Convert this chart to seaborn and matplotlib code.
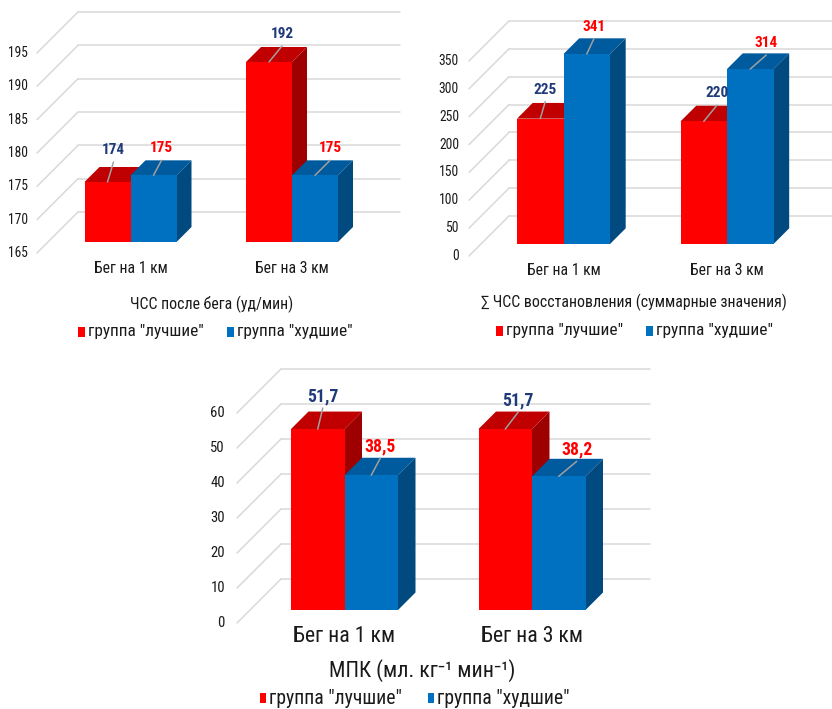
import numpy as np
import pandas as pd
import seaborn as sns
import matplotlib
matplotlib.use("Agg")
import matplotlib.pyplot as plt
from matplotlib.patches import Polygon, Rectangle
from matplotlib.lines import Line2D
from matplotlib.transforms import ScaledTranslation, IdentityTransform

W, H, DPI = 832, 709, 100

# ---- data -------------------------------------------------------------
categories = ["Бег на 1 км", "Бег на 3 км"]
groups = ['группа "лучшие"', 'группа "худшие"']

hr_best = [174, 192]
hr_worst = [175, 175]
hr_ticks = [165, 170, 175, 180, 185, 190, 195]
hr_title = "ЧСС после бега (уд/мин)"

rec_best = [225, 220]
rec_worst = [341, 314]
rec_ticks = [0, 50, 100, 150, 200, 250, 300, 350]
rec_title = "∑ ЧСС восстановления (суммарные значения)"

vo2_best = [51.7, 51.7]
vo2_worst = [38.5, 38.2]
vo2_ticks = [0, 10, 20, 30, 40, 50, 60]
vo2_title = "МПК (мл. кг⁻¹ мин⁻¹)"

# ---- style ------------------------------------------------------------
RED, RED_TOP, RED_SIDE = "#FF0000", "#C00000", "#9E0000"
BLUE, BLUE_TOP, BLUE_SIDE = "#0070C0", "#005A9E", "#004A80"
NAVY = "#1F3A78"
GRID = "#D9D9D9"
LEADER = "#A0A0A0"
TEXT = "#1A1A1A"

sns.set_theme(style="white")
plt.rcParams["font.family"] = ["Roboto Condensed", "Liberation Sans", "DejaVu Sans"]
plt.rcParams["text.color"] = TEXT

fig = plt.figure(figsize=(W / DPI, H / DPI), dpi=DPI)
fig.patch.set_facecolor("white")
renderer = fig.canvas.get_renderer()


def fx(x):
    return x / W


def fy(y):
    return 1 - y / H


def shift(dx, dy):
    return ScaledTranslation(dx / DPI, dy / DPI, fig.dpi_scale_trans)


def fit(s, width, weight="normal", base_size=12.0):
    """Font size giving the string s a rendered width of `width` pixels,
    together with the text box height at that size."""
    t = fig.text(0, 0, s, fontsize=base_size, fontweight=weight)
    ext = t.get_window_extent(renderer)
    t.remove()
    k = width / ext.width
    return base_size * k, ext.height * k


def panel(best, worst, ticks, title, geo, fmt):
    g = geo
    ymin, ymax = ticks[0], ticks[-1]
    left = g["front_left"] + g["bar_off"]
    base = g["front_base"] - g["bar_off"]
    top = base - (ymax - ymin) * g["ppu"]
    right = g["right_back"] - (g["depth"] - g["bar_off"])
    ax = fig.add_axes([fx(left), fy(base), (right - left) / W, (base - top) / H])
    ax.set_facecolor("none")

    df = pd.DataFrame({
        "Дистанция": categories * 2,
        "Группа": [groups[0]] * len(categories) + [groups[1]] * len(categories),
        "Значение": list(best) + list(worst),
    })
    unit = g["centers"][1] - g["centers"][0]
    sns.barplot(data=df, x="Дистанция", y="Значение", hue="Группа",
                hue_order=groups, palette=[RED, BLUE], saturation=1,
                width=2 * g["bar_w"] / unit, errorbar=None, legend=False,
                linewidth=0, edgecolor="none", ax=ax)
    xl = -(g["centers"][0] - left) / unit
    xr = 1 + (right - g["centers"][1]) / unit
    ax.set_xlim(xl, xr)
    ax.set_ylim(ymin, ymax)
    sns.despine(ax=ax, left=True, bottom=True)
    ax.set_xlabel("")
    ax.set_ylabel("")
    ax.set_yticks([])

    cat_fs, cat_h = fit(categories[0], g["cat_w"])
    pad_px = g["cat_y"] - base - cat_h / 2
    ax.tick_params(axis="x", length=0, pad=pad_px * 72 / DPI, labelsize=cat_fs,
                   labelcolor=TEXT)

    back = g["depth"] - g["bar_off"]
    tick_fs, _ = fit(f"{ticks[-1]}", g["tick_w"])
    # back wall gridlines and left wall diagonals
    for t in ticks:
        ax.plot([xl, xr], [t, t], color=GRID, lw=1.1, zorder=0.5, clip_on=False,
                transform=ax.transData + shift(back, back))
        px, py = ax.transData.transform((xl, t))
        ax.add_artist(Line2D([px - g["bar_off"], px + back],
                             [py - g["bar_off"], py + back],
                             color=GRID, lw=1.1, zorder=0.5, clip_on=False,
                             transform=IdentityTransform()))
        ax.text(xl, t, f"{t}", ha="right", va="center", fontsize=tick_fs,
                color=TEXT, transform=ax.transData + shift(-g["bar_off"] - g["gap"], -g["bar_off"]))

    # 3D faces: each box drawn left to right so nearer boxes cover earlier ones
    bars = sorted(ax.patches, key=lambda p: p.get_x())
    d = g["bar_depth"]
    val_fs, _ = fit(fmt(best[0]), g["val_w"], weight="bold")
    for i, p in enumerate(bars):
        is_best = p.get_facecolor()[2] < 0.3
        x0, x1 = p.get_x(), p.get_x() + p.get_width()
        y0 = max(p.get_y(), ymin)
        y1 = p.get_y() + p.get_height()
        (ax0, ay0), (ax1, ay1) = ax.transData.transform([(x0, y0), (x1, y1)])
        z = 2 + i
        top_face = Polygon([(ax0, ay1), (ax1, ay1), (ax1 + d, ay1 + d), (ax0 + d, ay1 + d)],
                           closed=True, facecolor=RED_TOP if is_best else BLUE_TOP,
                           edgecolor="none", transform=IdentityTransform(), zorder=z,
                           clip_on=False)
        side_face = Polygon([(ax1, ay0), (ax1 + d, ay0 + d), (ax1 + d, ay1 + d), (ax1, ay1)],
                            closed=True, facecolor=RED_SIDE if is_best else BLUE_SIDE,
                            edgecolor="none", transform=IdentityTransform(), zorder=z,
                            clip_on=False)
        ax.add_artist(top_face)
        ax.add_artist(side_face)
        p.set_zorder(z + 0.5)
        # value label with leader line
        ldx, ldy = g["leaders"][i]
        cx = (x0 + x1) / 2
        ax.annotate("", xy=(cx, y1), xytext=(ldx, ldy), textcoords="offset pixels",
                    arrowprops=dict(arrowstyle="-", color=LEADER, lw=1.1,
                                    shrinkA=0, shrinkB=0), zorder=30,
                    annotation_clip=False)
        ax.annotate(fmt(y1), xy=(cx, y1), xytext=(ldx, ldy + 12),
                    textcoords="offset pixels", ha="center", va="center",
                    fontsize=val_fs, fontweight="bold",
                    color=NAVY if is_best else RED, zorder=31,
                    annotation_clip=False)

    # title and legend below the plot
    tx, ty = g["title_xy"]
    title_fs, _ = fit(title, g["title_w"])
    fig.text(fx(tx), fy(ty), title, ha="center", va="center",
             fontsize=title_fs, color=TEXT)
    leg_fs, _ = fit(groups[0], g["leg_w"])
    sw, sh = g["sq"]
    for (lx, ly), col, name in zip(g["legend_xy"], [RED, BLUE], groups):
        fig.add_artist(Rectangle((fx(lx), fy(ly + sh / 2)), sw / W, sh / H,
                                 transform=fig.transFigure, facecolor=col,
                                 edgecolor="none"))
        fig.text(fx(lx + sw + 3), fy(ly), name, ha="left", va="center",
                 fontsize=leg_fs, color=TEXT)
    return ax


def fmt_int(v):
    return f"{v:.0f}"


def fmt_dec(v):
    return f"{v:.1f}".replace(".", ",")


geo_hr = dict(front_left=37, front_base=253, ppu=200 / 30, depth=41, bar_off=11,
              bar_depth=15, right_back=400, centers=(130.5, 292), bar_w=46,
              gap=9, cat_y=268, cat_w=74, tick_w=20, val_w=23,
              title_w=163, leg_w=116, title_xy=(212, 304),
              legend_xy=[(78, 332), (227, 332)], sq=(7, 10),
              leaders=[(6, 20), (8, 15), (13, 16), (15, 15)])

geo_rec = dict(front_left=469, front_base=256, ppu=195 / 350, depth=40, bar_off=12,
               bar_depth=15.7, right_back=832, centers=(563.5, 727), bar_w=46.5,
               gap=10, cat_y=270, cat_w=74, tick_w=20, val_w=23,
               title_w=305, leg_w=117, title_xy=(634, 302),
               legend_xy=[(496, 331), (646, 331)], sq=(7, 10),
               leaders=[(5, 17), (7, 15), (13, 16), (16, 14)])

geo_vo2 = dict(front_left=237, front_base=623, ppu=3.5, depth=44, bar_off=13,
               bar_depth=17.5, right_back=650, centers=(344.5, 532), bar_w=53.5,
               gap=12, cat_y=636, cat_w=102, tick_w=14.5, val_w=31,
               title_w=186, leg_w=133, title_xy=(422, 671),
               legend_xy=[(260, 698), (428, 698)], sq=(6, 10),
               leaders=[(5, 21), (9, 17), (13, 17), (18, 15)])

panel(hr_best, hr_worst, hr_ticks, hr_title, geo_hr, fmt_int)
panel(rec_best, rec_worst, rec_ticks, rec_title, geo_rec, fmt_int)
panel(vo2_best, vo2_worst, vo2_ticks, vo2_title, geo_vo2, fmt_dec)

fig.savefig("out.png", dpi=DPI, facecolor="white")
